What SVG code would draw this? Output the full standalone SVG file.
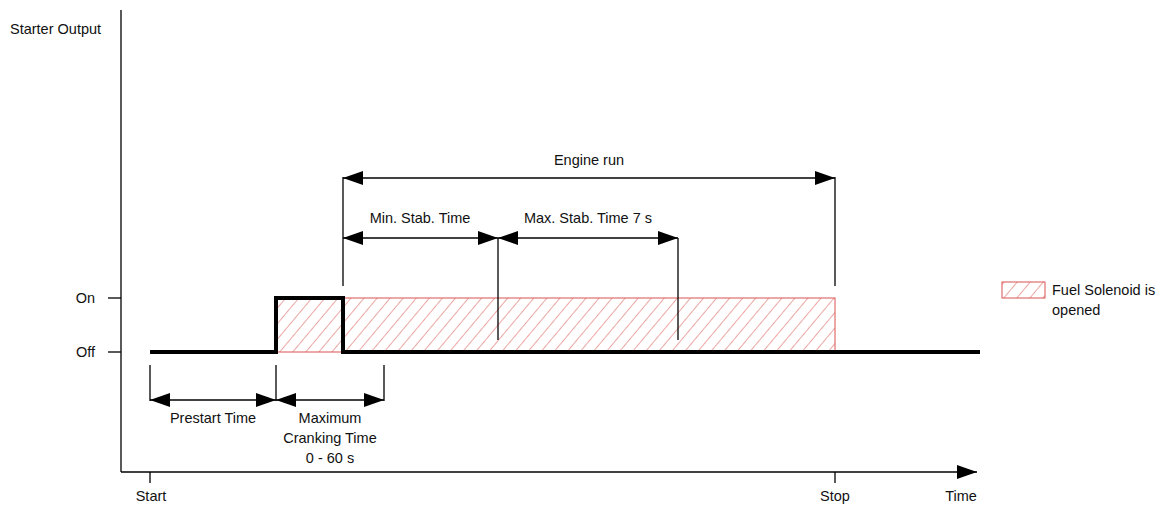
<svg xmlns="http://www.w3.org/2000/svg" width="1169" height="506" viewBox="0 0 1169 506">
<style>
text{font-family:"Liberation Sans",Arial,sans-serif;font-size:14.5px;fill:#111}
.ln{stroke:#000;stroke-width:1.3;fill:none}
.dim{stroke:#000;stroke-width:1.3;fill:none;marker-start:url(#ah);marker-end:url(#ah)}
.sig{stroke:#000;stroke-width:4;fill:none;stroke-linejoin:miter}
.hat{fill:url(#hatch);stroke:#d9534f;stroke-width:1}
.m{text-anchor:middle}
.e{text-anchor:end}
</style>
<defs>
<pattern id="hatch" patternUnits="userSpaceOnUse" width="10" height="10" patternTransform="rotate(40)">
<line x1="0" y1="0" x2="0" y2="10" stroke="#de6b66" stroke-width="1.2"/>
</pattern>
<marker id="ah" markerUnits="userSpaceOnUse" markerWidth="22" markerHeight="14" refX="20" refY="7" orient="auto-start-reverse">
<path d="M0,0 L20,7 L0,14 Z" fill="#000"/>
</marker>
</defs>
<g id="axes">
<line class="ln" x1="121" y1="10" x2="121" y2="472"/>
<line class="ln" x1="121" y1="472" x2="977" y2="472" style="marker-end:url(#ah)"/>
<line class="ln" x1="108" y1="298" x2="121" y2="298"/>
<line class="ln" x1="108" y1="352" x2="121" y2="352"/>
<line class="ln" x1="150" y1="472" x2="150" y2="483"/>
<line class="ln" x1="835" y1="472" x2="835" y2="483"/>
<text x="10" y="34">Starter Output</text>
<text class="e" x="95" y="303">On</text>
<text class="e" x="95" y="357">Off</text>
<text class="m" x="151" y="501">Start</text>
<text class="m" x="835" y="501">Stop</text>
<text class="m" x="961" y="501">Time</text>
</g>
<g id="fuel-solenoid">
<rect class="hat" x="276" y="298" width="559" height="54"/>
</g>
<g id="starter-signal">
<polyline class="sig" points="150,352 276,352 276,298 343,298 343,352 980,352"/>
</g>
<g id="connectors">
<line class="ln" x1="150" y1="365" x2="150" y2="401"/>
<line class="ln" x1="276" y1="365" x2="276" y2="401"/>
<line class="ln" x1="384" y1="365" x2="384" y2="401"/>
<line class="dim" x1="150" y1="400" x2="276" y2="400"/>
<line class="dim" x1="276" y1="400" x2="384" y2="400"/>
<line class="ln" x1="343" y1="177" x2="343" y2="286"/>
<line class="ln" x1="835" y1="177" x2="835" y2="286"/>
<line class="dim" x1="343" y1="178" x2="835" y2="178"/>
<line class="ln" x1="498" y1="238" x2="498" y2="340"/>
<line class="ln" x1="678" y1="238" x2="678" y2="340"/>
<line class="dim" x1="343" y1="238" x2="498" y2="238"/>
<line class="dim" x1="498" y1="238" x2="678" y2="238"/>
</g>
<g id="labels">
<text class="m" x="213" y="423">Prestart Time</text>
<text class="m" x="330" y="423">Maximum</text>
<text class="m" x="330" y="443">Cranking Time</text>
<text class="m" x="330" y="463">0 - 60 s</text>
<text class="m" x="589" y="165">Engine run</text>
<text class="m" x="420" y="223">Min. Stab. Time</text>
<text class="m" x="588" y="223">Max. Stab. Time 7 s</text>
</g>
<g id="legend">
<rect class="hat" x="1002" y="282" width="43" height="16"/>
<text x="1052" y="295">Fuel Solenoid is</text>
<text x="1052" y="315">opened</text>
</g>
</svg>
